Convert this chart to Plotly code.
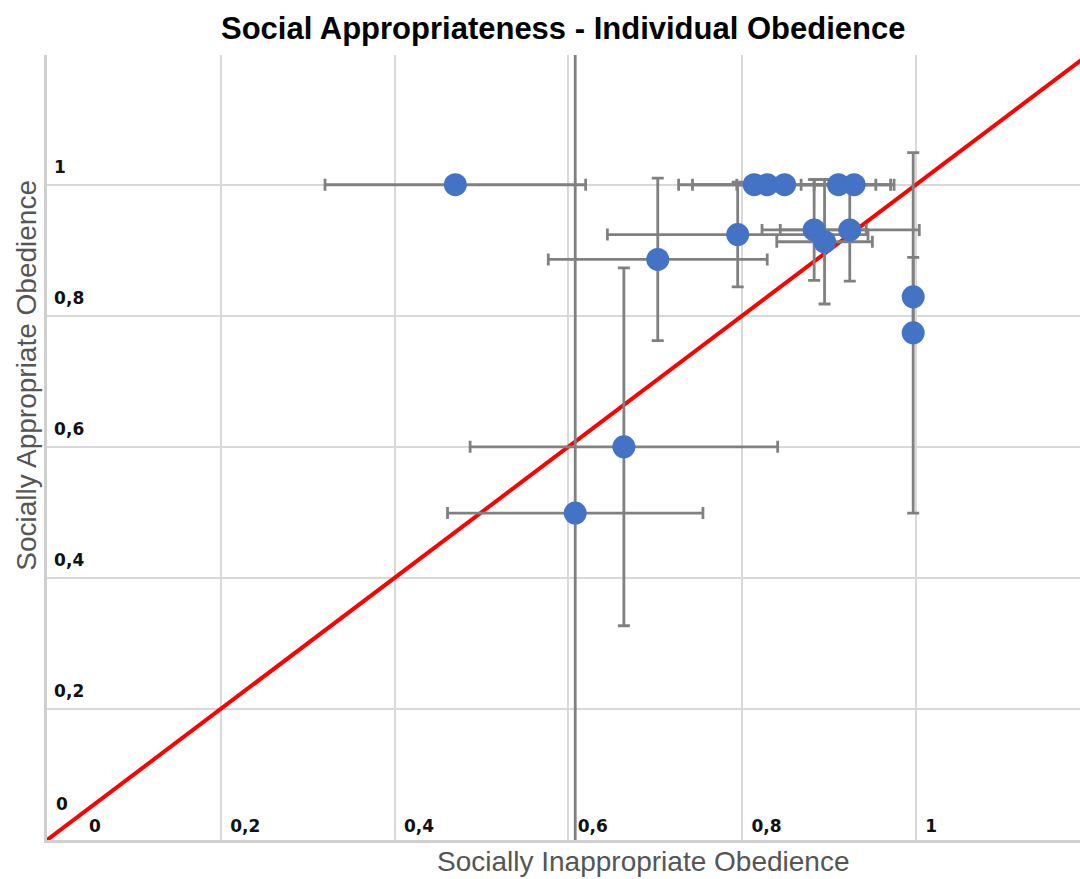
import plotly.graph_objects as go

# Individual obedience rates: inappropriate (x) vs appropriate (y), with spreads
inappropriate = [0.470, 0.814, 0.829, 0.849, 0.911, 0.929, 0.795, 0.883, 0.895,
                 0.924, 0.703, 0.997, 0.997, 0.664, 0.608]
appropriate = [1.000, 1.000, 1.000, 1.000, 1.000, 1.000, 0.924, 0.931, 0.913,
               0.931, 0.886, 0.829, 0.774, 0.600, 0.499]
inappropriate_err = [0.150, 0.020, 0.086, 0.122, 0.043, 0.046, 0.150, 0.060, 0.055,
                     0.080, 0.126, 0.000, 0.000, 0.177, 0.147]
appropriate_err = [0.000, 0.000, 0.000, 0.000, 0.000, 0.000, 0.080, 0.077, 0.095,
                   0.078, 0.124, 0.060, 0.275, 0.273, 0.750]

tick_vals = [0.2, 0.4, 0.6, 0.8, 1.0]
tick_text = ["0,2", "0,4", "0,6", "0,8", "1"]
diag = [0, 1.3]

err_color = "#808080"
grid_color = "#d9d9d9"
tick_font = dict(family="DejaVu Sans", size=17, color="#111111", weight="bold")

fig = go.Figure()

# Equality line y = x
fig.add_trace(go.Scatter(
    x=diag, y=diag, mode="lines",
    line=dict(color="#ff0000", width=4),
    hoverinfo="skip", showlegend=False,
))

fig.add_trace(go.Scatter(
    x=inappropriate, y=appropriate, mode="markers",
    marker=dict(color="#4472c4", size=23, line=dict(width=0)),
    error_x=dict(type="data", array=inappropriate_err, visible=True,
                 color=err_color, thickness=2.8, width=6),
    error_y=dict(type="data", array=appropriate_err, visible=True,
                 color=err_color, thickness=2.8, width=6),
    showlegend=False,
))

fig.update_layout(
    width=1080, height=879,
    margin=dict(l=47, r=0, t=55, b=39),
    paper_bgcolor="white", plot_bgcolor="white",
    title=dict(text="<b>Social Appropriateness - Individual Obedience</b>",
               x=0.5215, xanchor="center", y=0.968, yanchor="middle",
               font=dict(family="Liberation Sans", size=31, color="#000000")),
    xaxis=dict(range=[0, 1.189], tickvals=tick_vals, ticktext=tick_text,
               ticklabelposition="inside right", ticklabelstandoff=2,
               ticklabelshift=8,
               tickfont=tick_font, showgrid=True, gridcolor=grid_color, gridwidth=2,
               zeroline=False, showline=True, linecolor="#cfcfcf", linewidth=3,
               ticks=""),
    yaxis=dict(range=[0, 1.198], tickvals=tick_vals, ticktext=tick_text,
               ticklabelposition="inside top", ticklabelstandoff=6,
               ticklabelshift=-6,
               tickfont=tick_font, showgrid=True, gridcolor=grid_color, gridwidth=2,
               zeroline=False, showline=True, linecolor="#cfcfcf", linewidth=3,
               ticks=""),
    annotations=[
        dict(text="Socially Inappropriate Obedience", xref="paper", yref="paper",
             x=0.577, y=-0.028, xanchor="center", yanchor="middle", showarrow=False,
             font=dict(family="Liberation Sans", size=28, color="#555555")),
        dict(text="Socially Appropriate Obedience", xref="paper", yref="paper",
             x=-0.003, y=0.592, xanchor="right", yanchor="middle", textangle=-90,
             showarrow=False,
             font=dict(family="Liberation Sans", size=28, color="#555555")),
        dict(text="0", xref="x", yref="y", x=0.055, y=0.0, xanchor="center",
             yanchor="bottom", yshift=2, showarrow=False, font=tick_font),
        dict(text="0", xref="x", yref="y", x=0.0, y=0.055, xanchor="left",
             yanchor="middle", xshift=7, showarrow=False, font=tick_font),
    ],
)

fig.write_html("out.html")
